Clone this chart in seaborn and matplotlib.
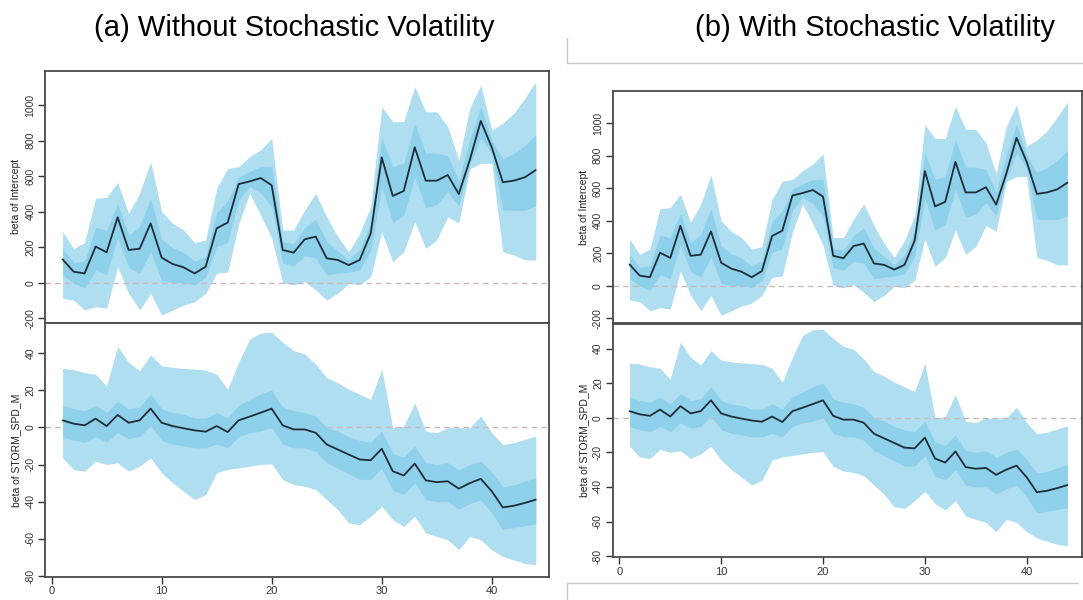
import matplotlib
matplotlib.use("Agg")
import numpy as np
import pandas as pd
import seaborn as sns
import matplotlib.pyplot as plt
from matplotlib.lines import Line2D

# ---------------- data ----------------
t = list(range(1, 45))

# beta of Intercept
int_med = [131, 62, 52, 203, 171, 368, 184, 191, 334, 141, 105, 86, 52, 90, 306, 338, 555, 570, 589, 548,
           184, 169, 244, 259, 137, 128, 99, 128, 278, 705, 488, 516, 762, 574, 574, 606, 499, 690, 910, 762,
           565, 574, 593, 634]
int_hi_outer = [287, 193, 225, 475, 480, 563, 390, 503, 681, 400, 334, 296, 225, 240, 531, 643, 653, 709, 747, 812,
                296, 296, 409, 503, 371, 259, 174, 278, 428, 991, 906, 906, 1103, 962, 962, 878, 690, 981, 1113, 859,
                897, 953, 1038, 1131]
int_lo_outer = [-88, -98, -154, -135, -144, 90, -60, -154, -60, -182, -154, -126, -107, -60, 52, 60, 330, 503, 380, 250,
                0, -13, 6, -41, -98, -60, -4, -13, 34, 287, 118, 174, 343, 193, 240, 371, 334, 640, 672, 672,
                174, 156, 128, 128]
int_hi_inner = [193, 114, 121, 312, 295, 446, 266, 316, 473, 245, 197, 170, 121, 150, 396, 460, 594, 626, 652, 654,
                229, 220, 310, 357, 231, 180, 129, 188, 338, 819, 655, 672, 898, 729, 729, 715, 575, 806, 991, 801,
                698, 726, 771, 833]
int_lo_inner = [43, -2, -30, 68, 45, 257, 86, 53, 176, 12, 1, 1, -12, 30, 204, 227, 465, 543, 505, 429,
                110, 96, 149, 139, 43, 53, 58, 72, 180, 538, 340, 379, 594, 422, 440, 512, 433, 665, 815, 726,
                409, 407, 407, 432]

# beta of STORM_SPD_M
spd_med = [3.8, 2.0, 1.1, 4.7, 0.7, 6.7, 2.5, 3.8, 10.1, 2.5, 0.7, -0.5, -1.6, -2.3, 0.7, -2.5, 3.8, 5.8, 7.9, 10.1,
           1.1, -1.1, -1.1, -2.9, -9.2, -11.9, -14.6, -17.3, -17.7, -11.5, -23.6, -25.9, -19.5, -28.5, -29.5, -29.0,
           -33.0, -30.0, -27.7, -34.4, -43.1, -42.2, -40.7, -38.9]
spd_hi_outer = [31.7, 31.0, 29.5, 28.6, 22.3, 43.6, 35.0, 30.5, 38.9, 33.2, 32.3, 31.7, 31.4, 30.8, 28.6, 20.5, 35.0,
                47.6, 50.8, 51.2, 45.8, 41.3, 39.5, 34.0, 26.8, 24.1, 20.5, 17.8, 15.1, 31.4, -0.2, 0.7, 13.3, -2.0,
                -2.9, -0.2, -0.2, -0.2, 6.1, -2.9, -9.2, -8.3, -6.5, -4.7]
spd_lo_outer = [-16.4, -22.7, -23.6, -18.2, -20.0, -19.1, -23.6, -20.9, -16.4, -24.5, -29.9, -34.4, -38.9, -36.2,
                -24.5, -22.7, -21.8, -20.9, -20.0, -19.6, -28.1, -30.8, -31.7, -33.5, -38.9, -44.3, -51.5, -52.4,
                -47.9, -42.5, -49.7, -53.3, -47.9, -56.9, -58.7, -60.5, -65.9, -58.7, -60.5, -65.9, -69.5, -71.4,
                -73.2, -74.0]
spd_hi_inner = [12, 10, 9, 12, 8, 14, 10, 11, 18, 10, 8, 7, 5, 5, 8, 5, 12, 15, 18, 20,
                11, 9, 8, 6, 0, -2, -5, -7, -8, -2, -14, -16, -10, -19, -20, -19, -23, -20, -18, -24,
                -32, -31, -29, -27]
spd_lo_inner = [-5, -7, -8, -5, -8, -3, -6, -5, 1, -7, -9, -10, -11, -11, -9, -11, -5, -3, -2, 0,
                -9, -11, -11, -13, -19, -22, -25, -28, -28, -22, -34, -36, -30, -39, -40, -40, -44, -41, -39, -46,
                -55, -54, -53, -52]

int_yticks = [-200, 0, 200, 400, 600, 800, 1000]
spd_yticks = [-80, -60, -40, -20, 0, 20, 40]
x_ticks = [0, 10, 20, 30, 40]
titles = ["(a) Without Stochastic Volatility", "(b) With Stochastic Volatility"]
ylabels = ["beta of Intercept", "beta of STORM_SPD_M"]

# ---------------- style ----------------
OUTER = "#afdef1"
INNER = "#8ccfeb"
LINE = "#1e2d38"
SPINE = "#4a4a4a"

sns.set_theme(style="white")
plt.rcParams["font.family"] = ["Liberation Sans", "DejaVu Sans"]

W, H = 1083, 600
fig = plt.figure(figsize=(W / 100, H / 100), dpi=100)


def box(l, r, top, bot):
    return [l / W, 1 - bot / H, (r - l) / W, (bot - top) / H]


def draw(ax, med, lo_o, hi_o, lo_i, hi_i, ylim, yticks, ylabel, xlim, show_x):
    df = pd.DataFrame({"t": t, "v": med})
    ax.fill_between(t, lo_o, hi_o, color=OUTER, lw=0, zorder=1)
    ax.axhline(0, ls=(0, (4, 3)), color="#c9b9b9", lw=1.0, zorder=2)
    ax.fill_between(t, lo_i, hi_i, color=INNER, lw=0, zorder=3, alpha=0.9)
    sns.lineplot(data=df, x="t", y="v", ax=ax, color=LINE, lw=1.3, zorder=4)
    ax.set_xlim(*xlim)
    ax.set_ylim(*ylim)
    ax.set_yticks(yticks)
    ax.set_yticklabels([str(v) for v in yticks], rotation=90, va="center")
    ax.set_ylabel(ylabel, fontsize=7.5, color="#222222", labelpad=3)
    ax.set_xlabel("")
    ax.tick_params(axis="y", direction="out", length=5, width=1, colors="#333333",
                   labelsize=7.5, pad=2, left=True)
    if show_x:
        ax.set_xticks(x_ticks)
        ax.tick_params(axis="x", direction="out", length=5, width=1, colors="#333333",
                       labelsize=8, pad=2, bottom=True)
    else:
        ax.set_xticks([])
    for s in ax.spines.values():
        s.set_color(SPINE)
        s.set_linewidth(1.3)
    ax.grid(False)


panels = [
    dict(top=box(45, 549, 70.7, 323), bot=box(45, 549, 323, 576.7),
         ylt=(-227, 1193), ylb=(-80.4, 56.2), xlim=(-0.6, 45.2), tx=294),
    dict(top=box(612.7, 1081.7, 90.7, 323.3), bot=box(612.7, 1081.7, 324, 557.3),
         ylt=(-231.5, 1200), ylb=(-80.7, 54.2), xlim=(-0.65, 45.4), tx=875),
]

for p, title in zip(panels, titles):
    ax1 = fig.add_axes(p["top"])
    draw(ax1, int_med, int_lo_outer, int_hi_outer, int_lo_inner, int_hi_inner,
         p["ylt"], int_yticks, ylabels[0], p["xlim"], False)
    ax2 = fig.add_axes(p["bot"])
    draw(ax2, spd_med, spd_lo_outer, spd_hi_outer, spd_lo_inner, spd_hi_inner,
         p["ylb"], spd_yticks, ylabels[1], p["xlim"], True)
    fig.text(p["tx"] / W, 1 - 28 / H, title, ha="center", va="center",
             fontsize=21, color="black")

# faint frame lines around panel (b) (from the screenshot)
frame_col = "#c8c8c8"
for (x0, y0, x1, y1) in [(567, 63, 1083, 63), (567, 38, 567, 63),
                         (567, 583, 1078, 583), (567, 583, 567, 600)]:
    fig.add_artist(Line2D([x0 / W, x1 / W], [1 - y0 / H, 1 - y1 / H],
                          transform=fig.transFigure, color=frame_col, lw=1))

fig.savefig("out.png", dpi=100, facecolor="white")
